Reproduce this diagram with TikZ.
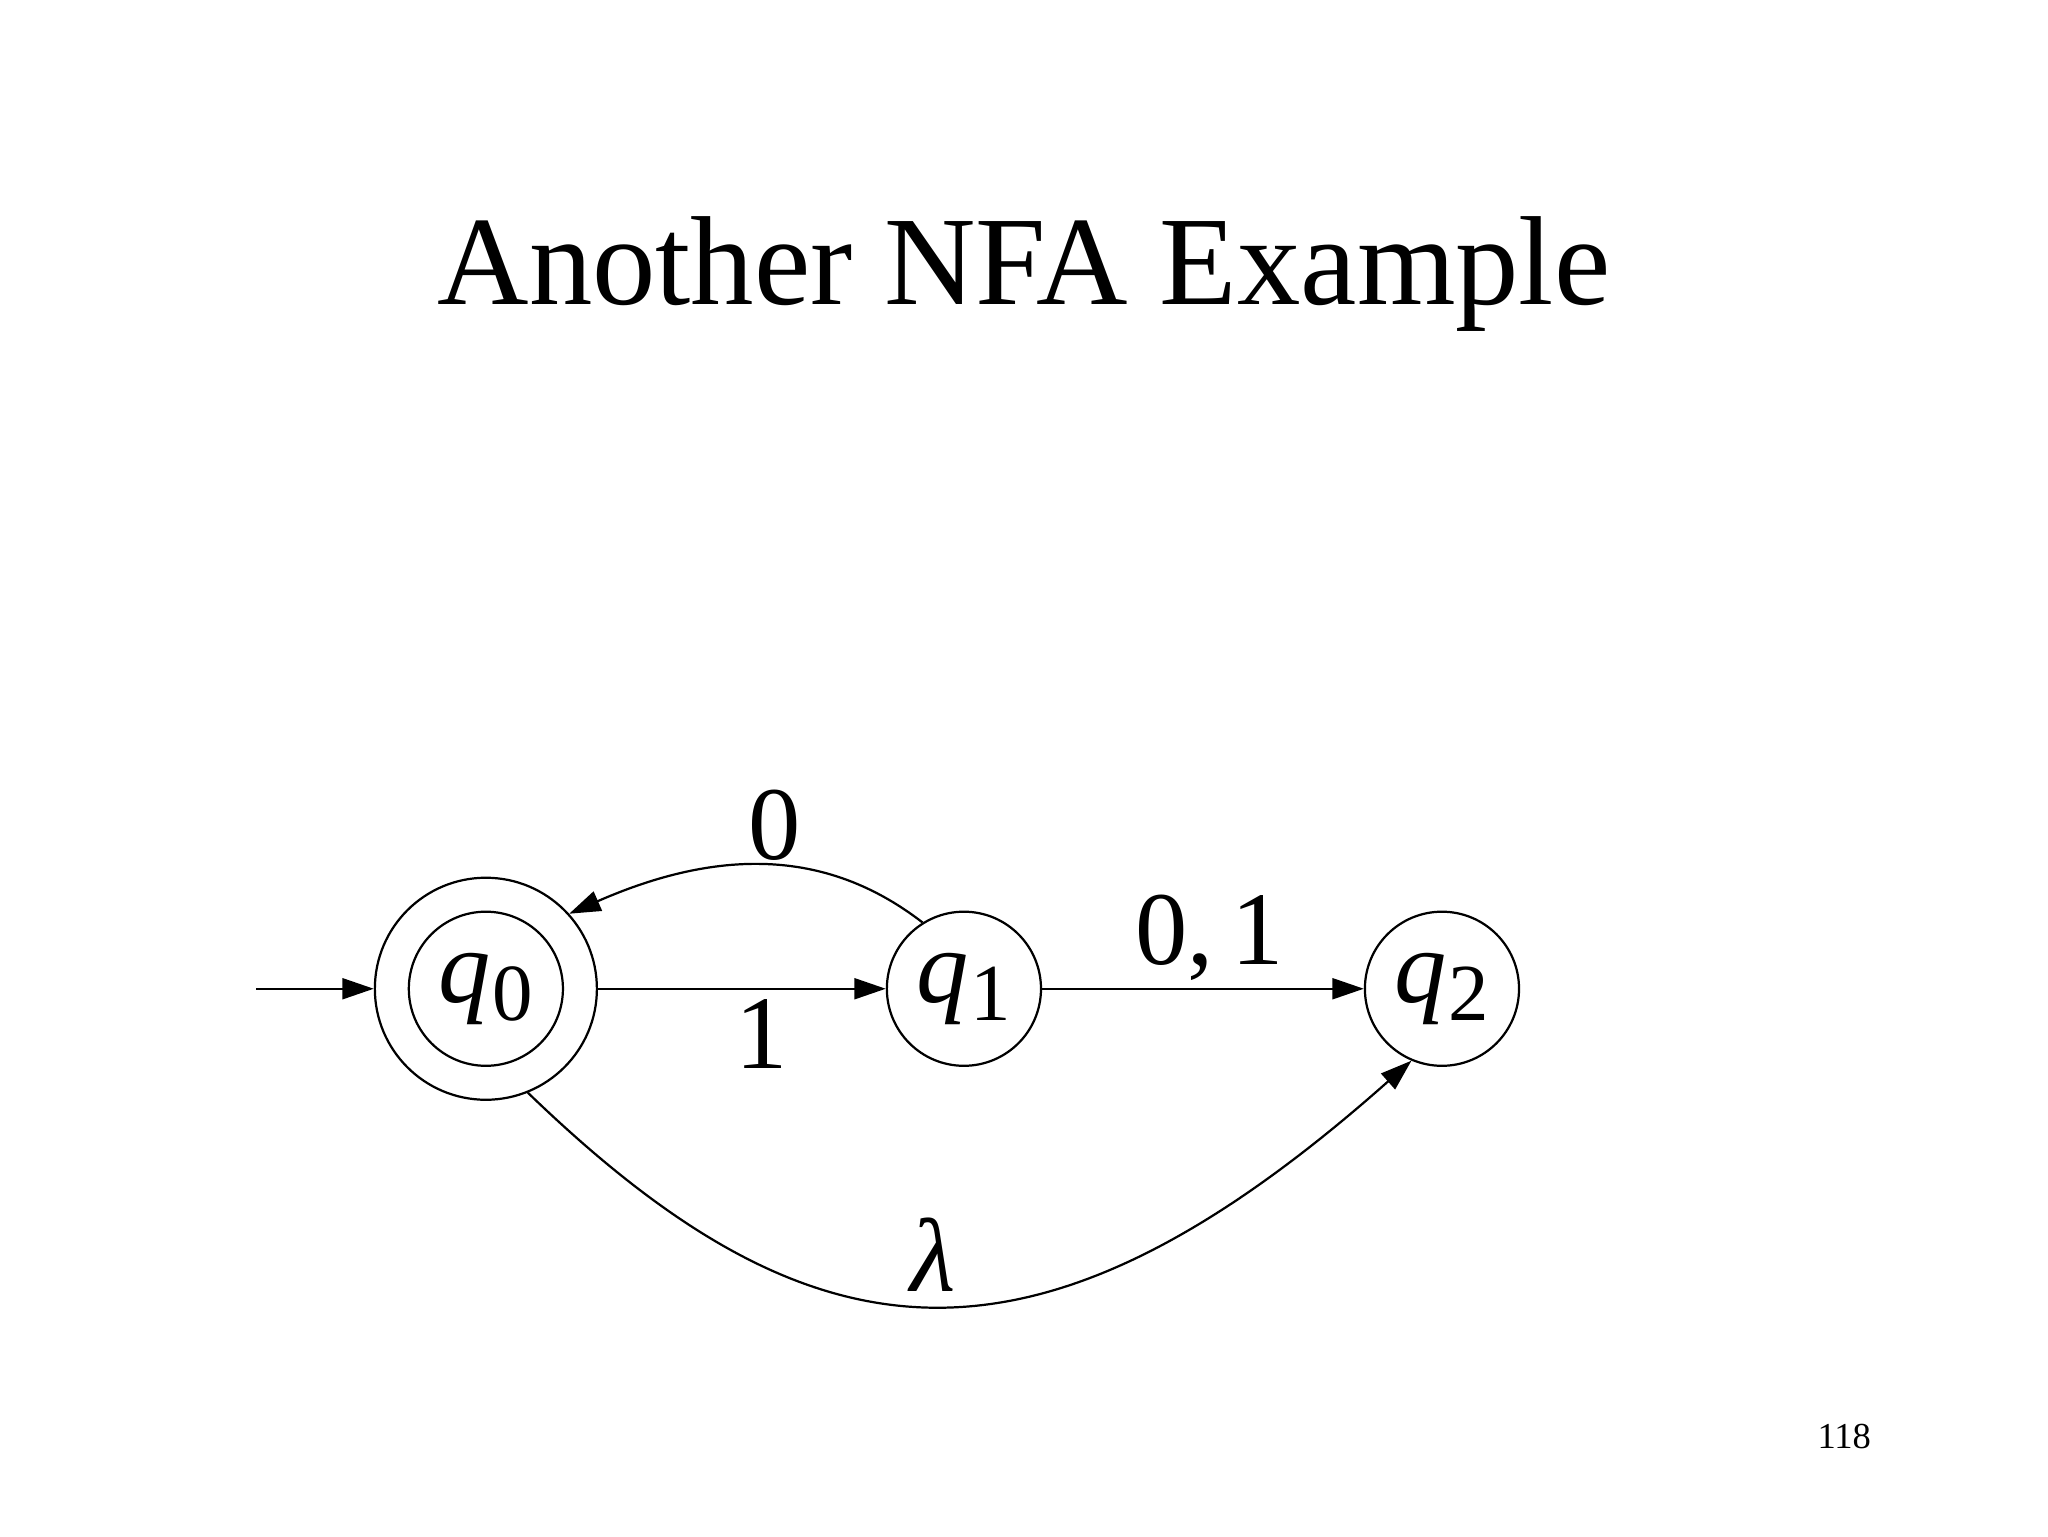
\documentclass[tikz,border=0pt]{standalone}
\usepackage{fontspec}
\setmainfont{Liberation Serif}
\usetikzlibrary{arrows.meta}
\begin{document}
\begin{tikzpicture}[x=1pt,y=1pt,
  st/.style={circle,draw,line width=1.7pt,minimum size=118pt,inner sep=0pt},
  ed/.style={line width=1.7pt,-{Triangle[length=24pt,width=16pt]}},
  lab/.style={font=\fontsize{80}{90}\selectfont}]
\useasboundingbox (0,0) rectangle (1568,-1176);
\node[font=\fontsize{97}{110}\selectfont] (title) at (784,-210) {Another NFA Example};
\node[st,minimum size=170pt] (q0o) at (372,-757) {};
\node[st] (q0) at (372,-757) {\fontsize{80}{90}\selectfont\textit{q}\kern1pt\raisebox{-14pt}{\fontsize{62}{64}\selectfont 0}};
\node[st] (q1) at (738,-757) {\fontsize{80}{90}\selectfont\textit{q}\kern1pt\raisebox{-14pt}{\fontsize{62}{64}\selectfont 1}};
\node[st] (q2) at (1104,-757) {\fontsize{80}{90}\selectfont\textit{q}\kern1pt\raisebox{-14pt}{\fontsize{62}{64}\selectfont 2}};
\coordinate (start) at (196,-757);
\draw[ed] (start) -- (q0o);
\draw[ed] (q0o) -- node[lab,below=4pt,xshift=15pt] {1} (q1);
\draw[ed] (q1) -- node[lab,above=2pt,xshift=5pt] {0,\,1} (q2);
\draw[ed] (q1.122) .. controls (640,-655) and (560,-645) .. node[lab,above=0pt] {0} (q0o.42);
\draw[ed] (q0o.-68) .. controls (620,-1045) and (790,-1070) .. node[lab,above=6pt] {\textit{λ}} (q2.-113);
\node[font=\fontsize{28}{30}\selectfont] (pg) at (1412,-1100) {118};
\end{tikzpicture}
\end{document}
